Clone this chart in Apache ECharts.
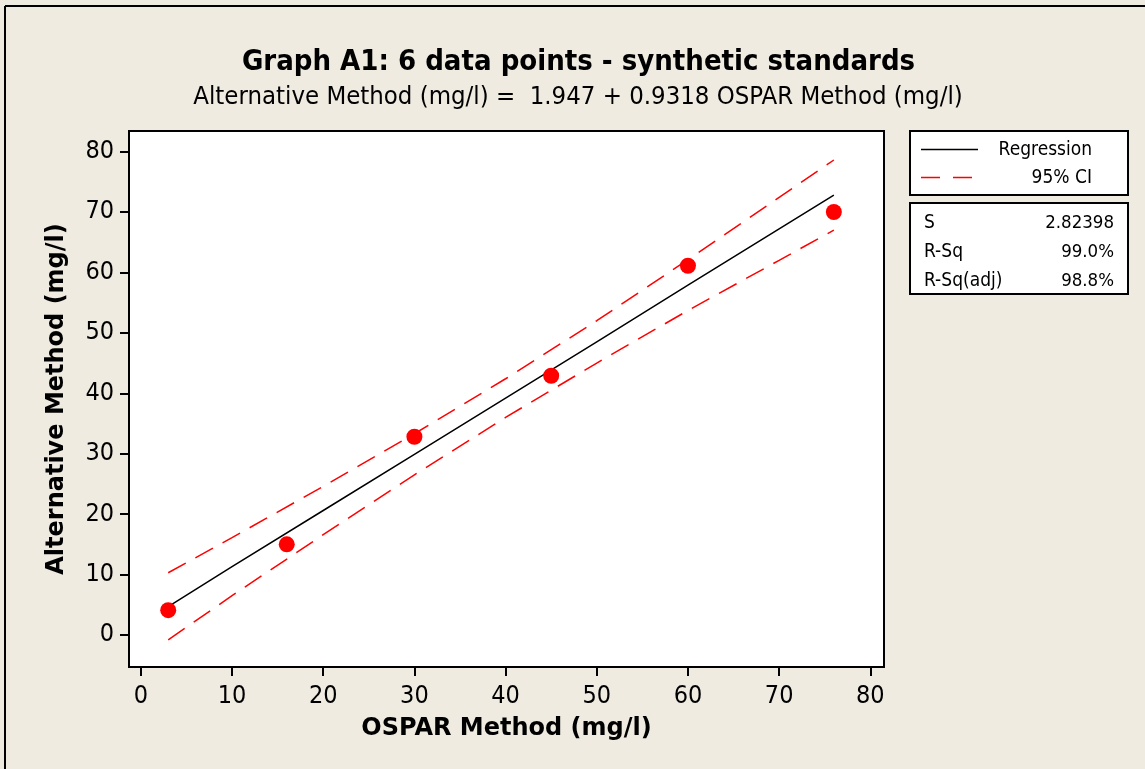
<!DOCTYPE html>
<html><head><meta charset="utf-8">
<script src="https://cdn.jsdelivr.net/npm/echarts@6/dist/echarts.min.js"></script>
<style>html,body{margin:0;padding:0;background:#efebe1;}#c{width:1145px;height:769px;}</style>
</head><body><div id="c"></div>
<script>
// Observed data points
const ospar = [3, 16, 30, 45, 60, 76];
const alternative = [4.1, 15, 32.8, 42.9, 61.1, 70];
// Fitted line and 95% CI
const fitX = [3, 10, 20, 30, 40, 50, 60, 70, 76];
const fitY = [4.7, 11.3, 20.6, 29.9, 39.2, 48.5, 57.9, 67.2, 72.8];
const ciUpper = [10.3, 16.1, 24.6, 33.3, 42.4, 52.0, 62.1, 72.4, 78.6];
const ciLower = [-0.8, 6.5, 16.6, 26.5, 36.0, 45.0, 53.7, 62.0, 67.0];
const tickValues = [0, 10, 20, 30, 40, 50, 60, 70, 80];
const titleText = 'Graph A1: 6 data points - synthetic standards';
const subtitleText = 'Alternative Method (mg/l) =  1.947 + 0.9318 OSPAR Method (mg/l)';
const xName = 'OSPAR Method (mg/l)';
const yName = 'Alternative Method (mg/l)';
const legendNames = ['Regression', '95% CI'];
const statLabels = ['S', 'R-Sq', 'R-Sq(adj)'];
const statValues = ['2.82398', '99.0%', '98.8%'];

const FONT_C = '"DejaVu Sans Condensed", "DejaVu Sans", sans-serif';
const FONT = '"DejaVu Sans", sans-serif';
const chart = echarts.init(document.getElementById('c'));
const pair = (xs, ys) => xs.map((x, i) => [x, ys[i]]);

const axisCommon = {
  type: 'value',
  axisLine: { show: true, onZero: false, lineStyle: { color: '#000', width: 2 } },
  axisTick: { show: true, inside: false, length: 9, customValues: tickValues, lineStyle: { color: '#000', width: 2 } },
  axisLabel: { customValues: tickValues, color: '#000', fontSize: 25, fontFamily: FONT_C },
  splitLine: { show: false }
};

chart.setOption({
  backgroundColor: '#efebe1',
  animation: false,
  graphic: [
    { type: 'line', shape: { x1: 5, y1: 6, x2: 1145, y2: 6 }, style: { stroke: '#000', lineWidth: 2 } },
    { type: 'line', shape: { x1: 5, y1: 6, x2: 5, y2: 769 }, style: { stroke: '#000', lineWidth: 2 } },
    { type: 'text', x: 578.5, y: 62, style: { text: titleText, textAlign: 'center', textVerticalAlign: 'middle', fontSize: 29, fontWeight: 'bold', fontFamily: FONT_C, fill: '#000' } },
    { type: 'text', x: 578, y: 97, style: { text: subtitleText, textAlign: 'center', textVerticalAlign: 'middle', fontSize: 25.5, fontFamily: FONT_C, fill: '#000' } },
    { type: 'rect', shape: { x: 910, y: 131, width: 218, height: 64 }, style: { fill: '#fff', stroke: '#000', lineWidth: 2 } },
    { type: 'line', shape: { x1: 921, y1: 149.5, x2: 978, y2: 149.5 }, style: { stroke: '#000', lineWidth: 1.5 } },
    { type: 'line', shape: { x1: 921, y1: 177.5, x2: 978, y2: 177.5 }, style: { stroke: '#ff0000', lineWidth: 1.5, lineDash: [19, 13] } },
    { type: 'text', x: 1092, y: 150.5, style: { text: legendNames[0], textAlign: 'right', textVerticalAlign: 'middle', fontSize: 19, fontFamily: FONT_C, fill: '#000' } },
    { type: 'text', x: 1092, y: 178.5, style: { text: legendNames[1], textAlign: 'right', textVerticalAlign: 'middle', fontSize: 19, fontFamily: FONT_C, fill: '#000' } },
    { type: 'rect', shape: { x: 910, y: 203, width: 218, height: 91 }, style: { fill: '#fff', stroke: '#000', lineWidth: 2 } },
    ...statLabels.map((s, i) => ({ type: 'text', x: 924, y: 223 + i * 29, style: { text: s, textAlign: 'left', textVerticalAlign: 'middle', fontSize: 19, fontFamily: FONT_C, fill: '#000' } })),
    ...statValues.map((s, i) => ({ type: 'text', x: 1114, y: 223 + i * 29, style: { text: s, textAlign: 'right', textVerticalAlign: 'middle', fontSize: 18.5, fontFamily: FONT_C, fill: '#000' } }))
  ],
  grid: { left: 129, top: 131, right: 261, bottom: 102, show: true, backgroundColor: '#fff',
          borderColor: '#000', borderWidth: 2 },
  xAxis: Object.assign({}, axisCommon, {
    min: -1.3, max: 81.5,
    axisLabel: Object.assign({}, axisCommon.axisLabel, { margin: 17 }),
    name: xName, nameLocation: 'middle', nameGap: 50,
    nameTextStyle: { fontSize: 24, fontWeight: 'bold', color: '#000', fontFamily: FONT }
  }),
  yAxis: Object.assign({}, axisCommon, {
    min: -5.3, max: 83.4,
    axisLabel: Object.assign({}, axisCommon.axisLabel, { margin: 15 }),
    name: yName, nameLocation: 'middle', nameGap: 60, nameRotate: 90,
    nameTextStyle: { fontSize: 24, fontWeight: 'bold', color: '#000', fontFamily: FONT }
  }),
  series: [
    { type: 'line', data: pair(fitX, fitY), symbol: 'none', lineStyle: { color: '#000', width: 1.5 }, z: 3 },
    { type: 'line', data: pair(fitX, ciUpper), symbol: 'none', lineStyle: { color: '#ff0000', width: 1.5, type: [20, 11] }, z: 3 },
    { type: 'line', data: pair(fitX, ciLower), symbol: 'none', lineStyle: { color: '#ff0000', width: 1.5, type: [20, 11] }, z: 3 },
    { type: 'scatter', data: pair(ospar, alternative), symbol: 'circle', symbolSize: 16,
      itemStyle: { color: '#ff0000', opacity: 1 }, z: 5 }
  ]
});
</script></body></html>
